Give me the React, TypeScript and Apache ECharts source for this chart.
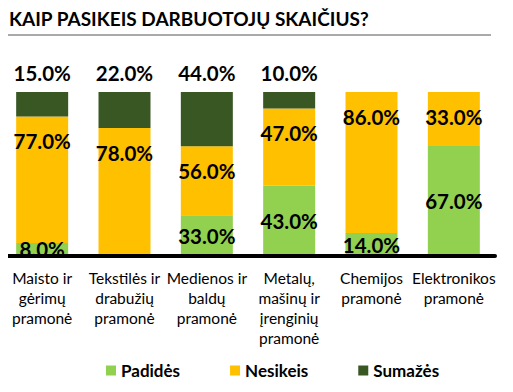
import React, { useEffect, useRef } from "react";
import * as echarts from "echarts";

const categories = [
  "Maisto ir\ngėrimų\npramonė",
  "Tekstilės ir\ndrabužių\npramonė",
  "Medienos ir\nbaldų\npramonė",
  "Metalų,\nmašinų ir\nįrenginių\npramonė",
  "Chemijos\npramonė",
  "Elektronikos\npramonė",
];
const padides = [8, 0, 33, 43, 14, 67];
const nesikeis = [77, 78, 56, 47, 86, 33];
const sumazes = [15, 22, 44, 10, 0, 0];
const seriesNames = ["Padidės", "Nesikeis", "Sumažės"];
const colors = ["#92D050", "#FFC000", "#385723"];

const FONT = "Lato, 'Open Sans', sans-serif";

export default function App() {
  const ref = useRef<HTMLDivElement>(null);
  useEffect(() => {
    if (!ref.current) return;
    const chart = echarts.init(ref.current, null, { renderer: "svg" });
    const raw = [padides, nesikeis, sumazes];
    const totals = categories.map((_, i) => padides[i] + nesikeis[i] + sumazes[i]);
    const positions: any[] = ["inside", "insideTop", "top"];
    const distances = [0, 14, 9];
    const series = raw.map((arr, s) => ({
      name: seriesNames[s],
      type: "bar",
      stack: "all",
      barWidth: 52,
      itemStyle: { color: colors[s] },
      data: arr.map((v, i) => (v / totals[i]) * 100),
      label: {
        show: true,
        position: positions[s],
        distance: distances[s],
        color: "#000",
        fontFamily: FONT,
        fontWeight: "bold",
        fontSize: 20.5,
        formatter: (p: any) => (arr[p.dataIndex] > 0 ? arr[p.dataIndex].toFixed(1) + "%" : ""),
      },
    }));
    chart.setOption({
      animation: false,
      title: {
        text: "KAIP PASIKEIS DARBUOTOJŲ SKAIČIUS?",
        left: 4,
        top: 4,
        textStyle: { fontFamily: FONT, fontWeight: "bold", fontSize: 19, color: "#000" },
      },
      legend: {
        bottom: 8,
        left: 101,
        itemWidth: 10,
        itemHeight: 10,
        itemGap: 50,
        icon: "rect",
        textStyle: { fontFamily: FONT, fontWeight: "bold", fontSize: 17, color: "#000" },
        data: seriesNames,
      },
      grid: { left: 1, right: 18, top: 92, bottom: 136, containLabel: false },
      xAxis: {
        type: "category",
        data: categories,
        z: 10,
        axisLine: { lineStyle: { color: "#000", width: 4 } },
        axisTick: { show: false },
        axisLabel: {
          interval: 0,
          margin: 12,
          color: "#000",
          fontFamily: FONT,
          fontSize: 15.5,
          lineHeight: 20,
        },
      },
      yAxis: { type: "value", min: 0, max: 100, show: false, splitLine: { show: false } },
      graphic: [
        {
          type: "line",
          shape: { x1: 2, y1: 35, x2: 491, y2: 35 },
          style: { stroke: "#555", lineWidth: 1 },
        },
        {
          type: "rect",
          z: 9,
          shape: { x: 0, y: 258, width: 513, height: 9 },
          style: { fill: "#fff" },
        },
      ],
      series,
    });
    return () => chart.dispose();
  }, []);
  return <div ref={ref} style={{ width: 513, height: 392, margin: -8 }} />;
}
